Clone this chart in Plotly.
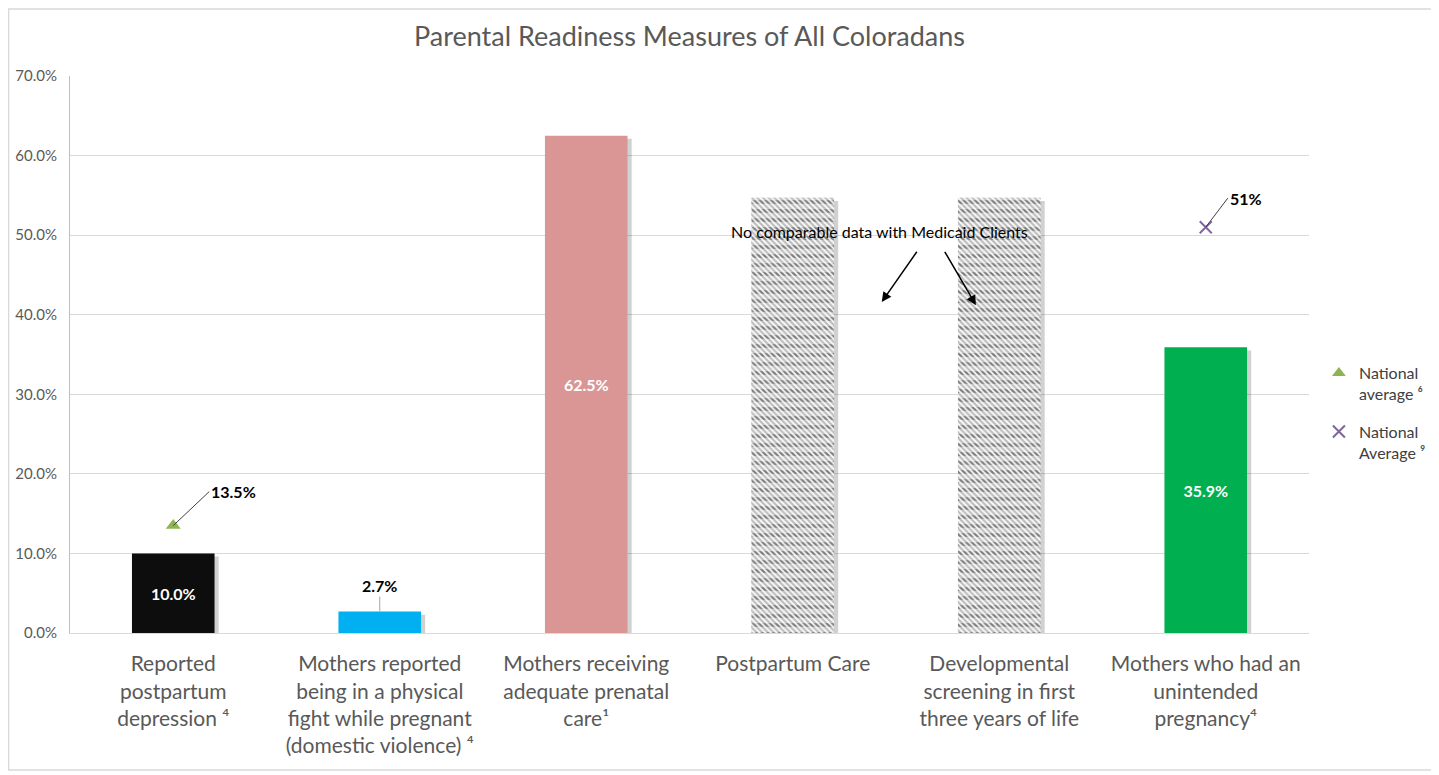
import plotly.graph_objects as go

FONT = "Lato, 'Open Sans', sans-serif"

categories = [
    "Reported<br>postpartum<br>depression ⁴",
    "Mothers reported<br>being in a physical<br>fight while pregnant<br>(domestic violence) ⁴",
    "Mothers receiving<br>adequate prenatal<br>care¹",
    "Postpartum Care",
    "Developmental<br>screening in first<br>three years of life",
    "Mothers who had an<br>unintended<br>pregnancy⁴",
]
colorado_values = [0.100, 0.027, 0.625, None, None, 0.359]
bar_colors = ["#0D0D0D", "#00B0F0", "#D99694", "#FFFFFF", "#FFFFFF", "#00B050"]
no_data_values = [None, None, None, 0.547, 0.547, None]

national_avg_6 = [0.135, None, None, None, None, None]
national_avg_9 = [None, None, None, None, None, 0.51]

BAR_W = 0.4
all_bars = [c if c is not None else n for c, n in zip(colorado_values, no_data_values)]

fig = go.Figure()

# soft drop shadow behind every bar (excel style)
fig.add_trace(go.Bar(
    x=categories, y=[v - 0.004 for v in all_bars],
    marker=dict(color="rgba(0,0,0,0.18)", line=dict(width=0)),
    width=BAR_W, offset=-BAR_W / 2 + 0.02,
    showlegend=False, hoverinfo="skip",
))

# solid bars with values
fig.add_trace(go.Bar(
    x=categories, y=colorado_values,
    marker=dict(color=bar_colors, line=dict(width=0)),
    width=BAR_W,
    text=[f"{v:.1%}" if v is not None and v > 0.05 else "" for v in colorado_values],
    textposition="inside", insidetextanchor="middle",
    textfont=dict(color="white", size=16, family=FONT, weight="bold"),
    showlegend=False, hoverinfo="skip",
))

# hatched "no comparable data" bars: fine diagonal dashes ...
fig.add_trace(go.Bar(
    x=categories, y=no_data_values,
    marker=dict(color="white", line=dict(width=0),
                pattern=dict(shape="\\", fgcolor="black", bgcolor="white",
                             size=4, solidity=0.6)),
    width=BAR_W, showlegend=False, hoverinfo="skip",
))
# ... broken into rows by white bands on top
fig.add_trace(go.Bar(
    x=categories, y=no_data_values,
    marker=dict(color="rgba(0,0,0,0)", line=dict(width=0),
                pattern=dict(shape="-", fgcolor="white", bgcolor="rgba(0,0,0,0)",
                             size=9, solidity=0.6)),
    width=BAR_W, showlegend=False, hoverinfo="skip",
))

fig.add_trace(go.Scatter(
    x=categories, y=national_avg_6, mode="markers",
    marker=dict(symbol="triangle-up", size=13, color="#8DB452"),
    name="National<br>average ⁶", legendgroup="a",
))
fig.add_trace(go.Scatter(
    x=categories, y=national_avg_9, mode="markers",
    marker=dict(symbol="x-thin", size=12, line=dict(color="#8064A2", width=2), color="#8064A2"),
    name="National<br>Average ⁹", legendgroup="b",
))

label_font = dict(family=FONT, size=16, color="black", weight="bold")
annotations = [
    dict(x=categories[0], y=national_avg_6[0], text="13.5%", showarrow=True, arrowhead=0,
         arrowwidth=1, arrowcolor="#404040", ax=36, ay=-34, xanchor="left", font=label_font),
    dict(x=categories[5], y=national_avg_9[5], text="51%", showarrow=True, arrowhead=0,
         arrowwidth=1, arrowcolor="#404040", ax=22, ay=-29, xanchor="left", font=label_font),
    dict(x=categories[1], y=colorado_values[1], text="2.7%", showarrow=True, arrowhead=0,
         arrowwidth=1, arrowcolor="#A6A6A6", ax=0, ay=-26, font=label_font),
    dict(x=3.42, y=0.505, text="No comparable data with Medicaid Clients", showarrow=False,
         font=dict(family=FONT, size=16, color="black")),
    dict(x=3.431, y=0.416, ax=3.606, ay=0.481, axref="x", ayref="y", text="",
         showarrow=True, arrowhead=2, arrowsize=1.3, arrowwidth=1.5, arrowcolor="black"),
    dict(x=3.887, y=0.412, ax=3.732, ay=0.481, axref="x", ayref="y", text="",
         showarrow=True, arrowhead=2, arrowsize=1.3, arrowwidth=1.5, arrowcolor="black"),
]

fig.update_layout(
    width=1431, height=767,
    margin=dict(l=62, r=130, t=68, b=142, autoexpand=False),
    paper_bgcolor="white", plot_bgcolor="white",
    title=dict(text="Parental Readiness Measures of All Coloradans", x=0.5, xref="paper",
               y=0.9622, yanchor="middle",
               font=dict(family=FONT, size=27, color="#595959")),
    barmode="overlay",
    font=dict(family=FONT, color="#595959"),
    xaxis=dict(showgrid=False, showline=True, linecolor="#D9D9D9", linewidth=1, automargin=False,
               tickfont=dict(size=21, color="#595959", family=FONT),
               ticks="outside", ticklen=12, tickcolor="white"),
    yaxis=dict(range=[0, 0.7], dtick=0.1, tickformat=".1%", showgrid=True, gridcolor="#D9D9D9",
               showline=True, linecolor="#BFBFBF", linewidth=1, zeroline=False, automargin=False,
               ticks="outside", ticklen=9, tickcolor="rgba(0,0,0,0)",
               tickfont=dict(size=15, color="#595959", family=FONT)),
    legend=dict(x=1.008, y=0.395, xanchor="left", yanchor="middle", valign="top",
                font=dict(size=16, color="#404040", family=FONT),
                itemsizing="constant", itemwidth=30, tracegroupgap=14),
    annotations=annotations,
    shapes=[dict(type="rect", xref="paper", yref="paper", x0=-0.0496, x1=1.1001,
                 y0=-0.246, y1=1.1203, line=dict(color="#D9D9D9", width=1.5))],
)

fig.write_html("out.html")
